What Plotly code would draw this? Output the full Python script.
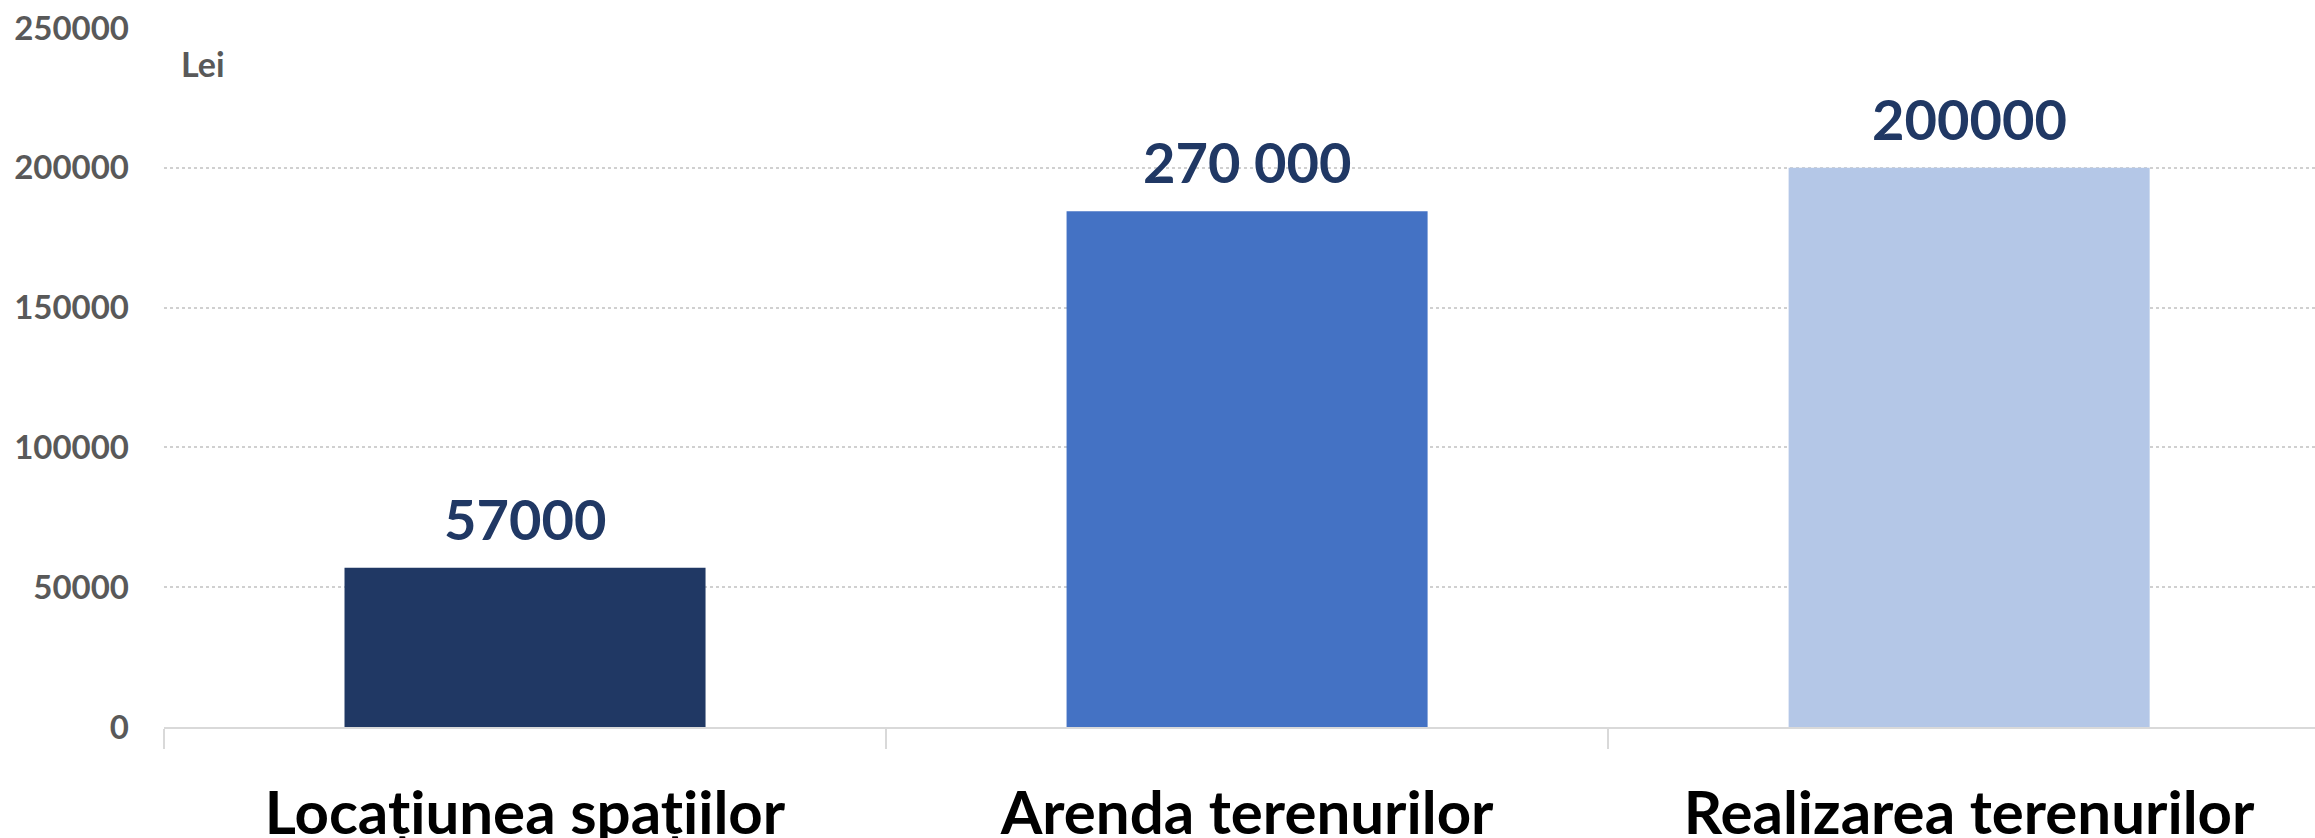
import plotly.graph_objects as go

categories = ["Locațiunea spațiilor", "Arenda terenurilor", "Realizarea terenurilor"]
values = [57000, 184500, 200000]
value_labels = ["57000", "270 000", "200000"]
bar_colors = ["#203864", "#4472C4", "#B4C7E7"]
y_ticks = [0, 50000, 100000, 150000, 200000, 250000]
unit_label = "Lei"

FONT = "Lato"

fig = go.Figure()
fig.add_trace(go.Bar(
    x=categories, y=values, width=0.5,
    marker=dict(color=bar_colors, line=dict(width=0)),
    hoverinfo="skip",
))

for c, v, t in zip(categories, values, value_labels):
    fig.add_annotation(
        x=c, y=v, text=f"<b>{t}</b>", showarrow=False,
        xanchor="center", yanchor="bottom", yshift=14,
        font=dict(family=FONT, size=56, color="#203864"),
    )

fig.add_annotation(
    xref="paper", yref="paper", x=0.007, y=0.9485,
    text=f"<b>{unit_label}</b>", showarrow=False,
    xanchor="left", yanchor="middle",
    font=dict(family=FONT, size=34, color="#595959"),
)

fig.update_layout(
    width=2315, height=838,
    margin=dict(l=164, r=0, t=28, b=111),
    paper_bgcolor="white", plot_bgcolor="white",
    showlegend=False,
    bargap=0.5,
)
fig.update_xaxes(
    range=[-0.5, 2.479], automargin=False,
    showline=True, linecolor="#D9D9D9", linewidth=2,
    tickson="boundaries", ticks="outside", ticklen=20, tickcolor="#D9D9D9", tickwidth=2,
    tickfont=dict(family=FONT, size=60, color="#000000", weight="bold"),
    ticklabelstandoff=33,
    showgrid=False,
)
fig.update_yaxes(
    range=[0, 250000], automargin=False,
    tickvals=y_ticks, ticktext=[str(v) for v in y_ticks],
    showgrid=True, gridcolor="#D0D0D0", griddash="dot", gridwidth=1.5,
    zeroline=False, showline=False, ticks="",
    tickfont=dict(family=FONT, size=33, color="#595959", weight="bold"),
    ticklabelstandoff=34,
)

fig.write_html(
    "out.html",
    config={"displayModeBar": False},
    post_script="document.body.style.margin='0';document.body.style.overflow='hidden';",
)
